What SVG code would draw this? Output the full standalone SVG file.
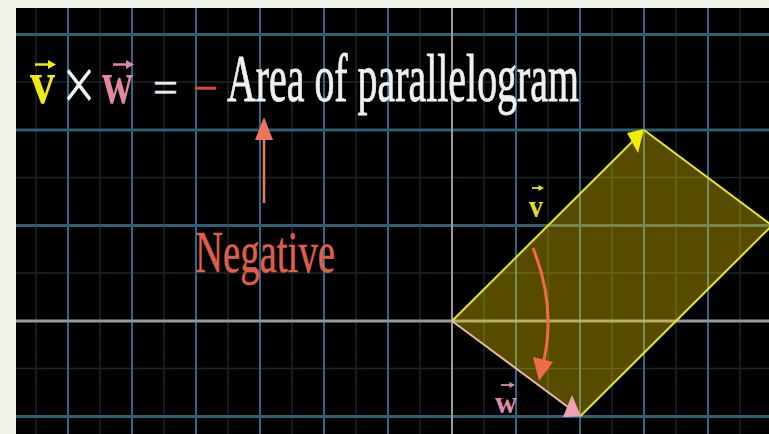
<svg xmlns="http://www.w3.org/2000/svg" width="769" height="434" viewBox="0 0 769 434">
<style>
.minor{stroke:#1c262b;stroke-width:1.5}
.majv{stroke:#2a6a86;stroke-width:2}
.majh{stroke:#2f5f74;stroke-width:3}
.axis{stroke:#9a9a9a}
.serif{font-family:"Liberation Serif","DejaVu Serif",serif}
.vec{font-family:"Liberation Serif","DejaVu Serif",serif;font-weight:bold}
</style>
<rect x="0" y="0" width="769" height="434" fill="#eff2e6"/>
<rect x="16" y="8" width="753" height="426" fill="#000"/>
<g id="grid">
<g class="minor">
<line x1="36" y1="8" x2="36" y2="434"/><line x1="100" y1="8" x2="100" y2="434"/><line x1="164" y1="8" x2="164" y2="434"/><line x1="228" y1="8" x2="228" y2="434"/><line x1="292" y1="8" x2="292" y2="434"/><line x1="356" y1="8" x2="356" y2="434"/><line x1="420" y1="8" x2="420" y2="434"/><line x1="484" y1="8" x2="484" y2="434"/><line x1="548" y1="8" x2="548" y2="434"/><line x1="612" y1="8" x2="612" y2="434"/><line x1="676" y1="8" x2="676" y2="434"/><line x1="740" y1="8" x2="740" y2="434"/>
<line x1="16" y1="82" x2="769" y2="82"/><line x1="16" y1="177.5" x2="769" y2="177.5"/><line x1="16" y1="273" x2="769" y2="273"/><line x1="16" y1="368.5" x2="769" y2="368.5"/>
</g>
<g class="majv">
<line x1="68" y1="8" x2="68" y2="434"/><line x1="132" y1="8" x2="132" y2="434"/><line x1="196" y1="8" x2="196" y2="434"/><line x1="260" y1="8" x2="260" y2="434"/><line x1="324" y1="8" x2="324" y2="434"/><line x1="388" y1="8" x2="388" y2="434"/><line x1="516" y1="8" x2="516" y2="434"/><line x1="580" y1="8" x2="580" y2="434"/><line x1="644" y1="8" x2="644" y2="434"/><line x1="708" y1="8" x2="708" y2="434"/>
</g>
<g class="majh">
<line x1="16" y1="34.5" x2="769" y2="34.5"/><line x1="16" y1="130" x2="769" y2="130"/><line x1="16" y1="225.5" x2="769" y2="225.5"/><line x1="16" y1="416.5" x2="769" y2="416.5"/>
</g>
<line class="axis" x1="16" y1="321" x2="769" y2="321" stroke-width="3"/>
<line class="axis" x1="452" y1="8" x2="452" y2="434" stroke-width="2"/>
</g>
<g id="parallelogram">
<polygon points="452,321 644,130 772,225.5 580,416.5" fill="#ffdc00" fill-opacity="0.34"/>
<polyline points="644,130 772,225.5 580,416.5" fill="none" stroke="#e6e62a" stroke-width="2"/>
</g>
<g id="vector-v">
<line x1="452" y1="321" x2="636" y2="138" stroke="#e6e62a" stroke-width="2"/>
<polygon points="644,129 627,133 638,153" fill="#f2ec00"/>
</g>
<g id="vector-w">
<line x1="452" y1="321" x2="572" y2="410" stroke="#e6b8a8" stroke-width="2"/>
<polygon points="581,416.5 563,417 572,395" fill="#eea2b4"/>
</g>
<g id="title">
<text class="vec" transform="translate(30,103) scale(1,1.27)" font-size="48" fill="#f0ea10" textLength="25" lengthAdjust="spacingAndGlyphs">v</text>
<line x1="35" y1="64.5" x2="50" y2="64.5" stroke="#f0ea10" stroke-width="2.5"/>
<polygon points="56,64.5 48,60 48,69" fill="#f0ea10"/>
<text class="serif" transform="translate(62,111) scale(1,1.3)" font-size="60" fill="#f2f2f2">×</text>
<text class="vec" transform="translate(102,103) scale(1,1.27)" font-size="48" fill="#e3889c" textLength="31" lengthAdjust="spacingAndGlyphs">w</text>
<line x1="113" y1="64.5" x2="128" y2="64.5" stroke="#e3889c" stroke-width="2.5"/>
<polygon points="134,64.5 126,60 126,69" fill="#e3889c"/>
<text class="serif" transform="translate(153,102)" font-size="44" fill="#e8e8e8" stroke="#e8e8e8" stroke-width="0.6">=</text>
<text class="serif" transform="translate(193,103)" font-size="44" fill="#e0483c" stroke="#e0483c" stroke-width="0.6">−</text>
<text class="serif" transform="translate(227,101) scale(1,1.76)" font-size="38.6" fill="#f0f0f0" stroke="#f0f0f0" stroke-width="0.5" textLength="352" lengthAdjust="spacingAndGlyphs">Area of parallelogram</text>
</g>
<g id="label-v">
<text class="vec" transform="translate(529,217) scale(1,1.25)" font-size="26" fill="#e8e020" textLength="14" lengthAdjust="spacingAndGlyphs">v</text>
<line x1="532" y1="188" x2="539" y2="188" stroke="#e8e020" stroke-width="1.8"/>
<polygon points="544,188 538.5,185 538.5,191" fill="#e8e020"/>
</g>
<g id="label-w">
<text class="vec" transform="translate(495,413) scale(1,1.25)" font-size="26" fill="#e08aa8" textLength="22" lengthAdjust="spacingAndGlyphs">w</text>
<line x1="501" y1="385" x2="510" y2="385" stroke="#e08aa8" stroke-width="1.8"/>
<polygon points="515,385 509.5,382 509.5,388" fill="#e08aa8"/>
</g>
<g id="negative">
<text class="serif" transform="translate(195,272) scale(1,1.52)" font-size="38.8" fill="#de5e4c" stroke="#de5e4c" stroke-width="0.4" textLength="140" lengthAdjust="spacingAndGlyphs">Negative</text>
</g>
<g id="connectors">
<line x1="264" y1="138" x2="264" y2="203" stroke="#f0745c" stroke-width="2.5"/>
<polygon points="264,117 255,140 273,140" fill="#f0745c"/>
<path d="M533,248 Q556,305 544,360" fill="none" stroke="#f06a4c" stroke-width="3"/>
<polygon points="539,381 533,357 553,362" fill="#f06a4c"/>
</g>
</svg>
